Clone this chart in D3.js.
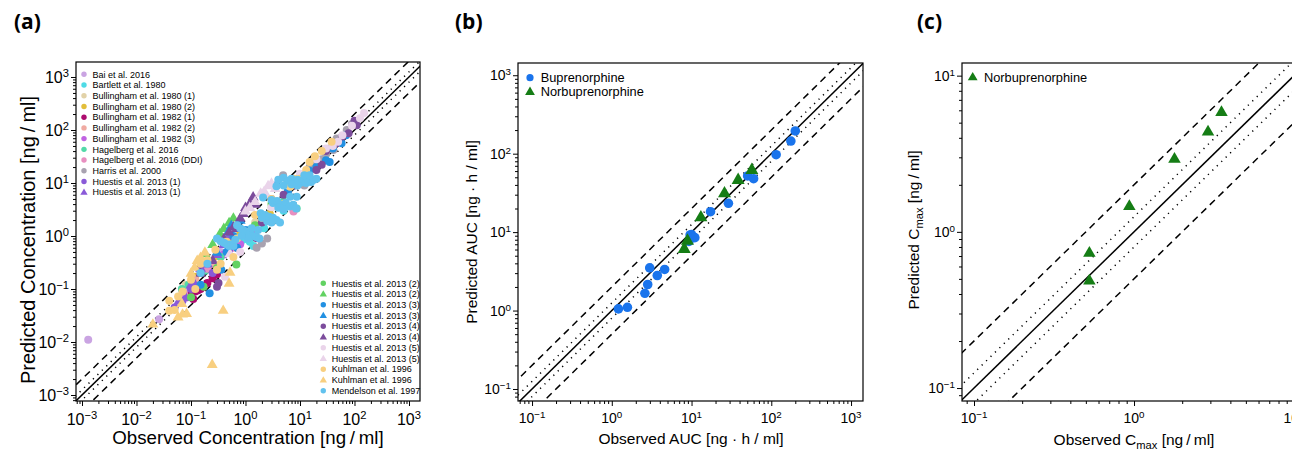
<!DOCTYPE html>
<html>
<head>
<meta charset="utf-8">
<script src="https://cdn.jsdelivr.net/npm/d3@7"></script>
<style>
  body { margin: 0; background: #fff; }
  svg { display: block; font-family: "Liberation Sans", Arial, sans-serif; }
</style>
</head>
<body>
<svg id="fig" width="1292" height="452"></svg>
<script>
// ---- data: panel (a), [observed, predicted] in ng/ml ----
const bai2016 = [[0.0013, 0.011], [0.026, 0.027], [0.09, 0.1], [0.35, 0.5], [1.5, 1.3], [2.5, 2.2]];
const bartlett1980 = [[1.2, 0.78], [1.4, 0.65], [0.9, 0.85], [2.2, 1.4], [0.2, 0.3], [5, 3]];
const bullingham1980a = [[0.08, 0.12], [0.15, 0.2], [0.25, 0.35], [0.5, 0.6], [1.5, 1.8], [3, 3.5]];
const bullingham1980b = [[0.12, 0.17], [0.2, 0.28], [0.3, 0.42], [0.6, 0.8], [2.8, 2.6], [9, 12], [20, 25],
  [6, 8], [0.8, 1.2]];
const bullingham1982a = [[0.085, 0.07], [0.1, 0.08], [0.12, 0.09], [0.135, 0.095], [0.15, 0.1], [0.17, 0.11],
  [0.2, 0.13], [0.25, 0.16], [0.3, 0.19], [0.11, 0.065]];
const bullingham1982b = [[0.07, 0.09], [0.12, 0.15], [0.25, 0.3], [0.5, 0.5]];
const bullingham1982c = [[0.2, 0.25], [0.4, 0.45], [0.8, 0.7], [1.5, 1.1], [0.1, 0.12]];
const hagelberg2016 = [[0.068, 0.1], [0.09, 0.12], [0.18, 0.22], [0.35, 0.4], [1.2, 1.3], [8.7, 3.3], [5, 4.5]];
const hagelberg2016ddi = [[0.075, 0.08], [0.2, 0.24], [7.6, 2.9], [0.6, 0.6], [2, 2.3]];
const harris2000 = [[2, 0.72], [2.5, 0.9], [4.9, 14], [41, 42], [35, 45], [47, 69], [72, 100], [30, 35],
  [1.6, 0.6], [10, 13], [25, 28], [6, 8], [8, 11], [15, 20], [18, 25], [55, 70], [90, 130], [3, 5], [12, 9]];
const huestis1c = [[0.05, 0.045], [0.07, 0.06], [0.1, 0.1], [0.15, 0.2], [0.25, 0.2], [0.5, 0.55]];
const huestis1t = [[0.06, 0.06], [0.08, 0.07], [0.12, 0.12], [0.2, 0.3], [0.3, 0.45], [0.4, 0.7], [0.7, 1.5],
  [0.15, 0.25], [0.1, 0.12], [0.5, 1]];
const huestis2c = [[0.68, 0.29], [0.17, 0.11], [0.1, 0.07], [0.3, 0.25], [1.5, 1.6], [3, 4], [12, 14]];
const huestis2t = [[0.18, 0.47], [0.34, 1.12], [0.4, 1.4], [0.5, 1.8], [0.25, 0.7], [0.6, 2.2]];
const huestis3c = [[0.22, 0.083], [0.36, 0.23], [0.45, 0.5], [3.7, 9.1], [30, 27], [35, 25], [58, 56], [1, 1.3],
  [20, 20], [0.7, 0.6], [40, 45], [15, 17], [6, 7], [70, 80], [0.15, 0.12], [0.6, 1]];
const huestis3t = [[0.48, 1.2], [0.55, 1.6], [0.3, 0.5], [0.8, 2]];
const huestis4c = [[0.32, 0.13], [0.3, 0.11], [1.6, 0.91], [20, 17.6], [78, 87], [110, 123], [15, 12], [5, 6],
  [2, 1.8], [30, 40], [45, 55], [60, 75], [8, 9], [25, 22], [100, 150]];
const huestis4t = [[0.91, 2.7], [1.2, 4.2], [1.38, 5.5], [0.69, 1.4], [0.6, 1.5], [1, 3.5], [0.8, 2.2], [0.25, 0.35],
  [0.15, 0.2], [0.5, 1.2], [1.5, 4], [0.4, 0.9]];
const huestis5c = [[0.42, 0.17], [126, 166], [60, 80], [40, 50], [8, 10], [3, 3.5], [0.8, 0.5], [150, 210],
  [20, 28], [30, 45], [90, 120], [50, 60], [10, 15], [6, 9]];
const huestis5t = [[1.9, 6.5], [2.2, 7], [2.6, 9], [3, 10], [0.52, 0.47], [1.5, 4.5], [2.4, 6], [1.2, 3.5],
  [3.5, 8], [1, 3]];
const kuhlmanC = [[0.04, 0.06], [0.04, 0.039], [0.058, 0.072], [0.3, 0.23], [0.15, 0.3], [0.28, 0.55], [0.45, 0.78],
  [6.6, 8.5], [13, 17.6], [18.8, 32], [38, 60], [0.1, 0.15], [0.2, 0.35], [1, 1.2], [2, 2.2], [5, 4], [10, 12],
  [0.6, 0.4], [25, 40], [8, 12], [15, 25], [3, 5], [0.07, 0.09], [0.05, 0.04], [0.12, 0.1], [0.35, 0.3],
  [0.7, 0.9], [1.5, 2.5]];
const kuhlmanT = [[0.02, 0.022], [0.058, 0.03], [0.07, 0.034], [0.083, 0.035], [0.068, 0.054], [0.117, 0.26],
  [0.18, 0.5], [0.52, 0.21], [0.5, 0.13], [0.39, 0.04], [0.245, 0.0038], [0.1, 0.2], [0.13, 0.35], [0.15, 0.4]];
const mendelson1997 = [[4, 11.5], [5, 12.5], [6, 11], [7, 12], [8, 10.5], [9, 11.5], [10, 10], [11, 11], [12, 12],
  [13, 10], [14, 11.5], [16, 10.5], [18, 11.5], [20, 12], [5, 9], [7, 9.5], [9, 9], [3.7, 8.7],
  [3.2, 4.2], [3.8, 4.6], [4.5, 3.9], [5.5, 4.2], [6.5, 3.6], [7.5, 3.9], [8.5, 3.3], [4, 3.4], [5, 3.2],
  [6.6, 5.5], [8.7, 5.5], [3, 4.8], [1.9, 2.7], [2.3, 2.5], [2.7, 2.3], [3.2, 2.2], [3.7, 2.0], [4.3, 1.8],
  [2.5, 1.9], [3, 1.8], [2, 2.2], [0.7, 1.6], [0.8, 1.4], [0.9, 1.3], [1, 1.2], [1.2, 1.1], [1.4, 1], [1.6, 0.95],
  [1.8, 0.9], [1.1, 0.9], [0.85, 1], [1.3, 1.4], [1.7, 1.3], [0.3, 0.9], [0.35, 0.8], [0.4, 0.75], [0.45, 0.7],
  [0.5, 0.65], [0.55, 0.7], [0.6, 0.65], [0.65, 0.85], [0.2, 0.3], [0.15, 0.2], [2.1, 5.3], [12, 14], [15, 14]];

const studyLabels = ["Bai et al. 2016", "Bartlett et al. 1980", "Bullingham et al. 1980 (1)", "Bullingham et al. 1980 (2)",
  "Bullingham et al. 1982 (1)", "Bullingham et al. 1982 (2)", "Bullingham et al. 1982 (3)", "Hagelberg et al. 2016",
  "Hagelberg et al. 2016 (DDI)", "Harris et al. 2000", "Huestis et al. 2013 (1)", "Huestis et al. 2013 (1)",
  "Huestis et al. 2013 (2)", "Huestis et al. 2013 (2)", "Huestis et al. 2013 (3)", "Huestis et al. 2013 (3)",
  "Huestis et al. 2013 (4)", "Huestis et al. 2013 (4)", "Huestis et al. 2013 (5)", "Huestis et al. 2013 (5)",
  "Kuhlman et al. 1996", "Kuhlman et al. 1996", "Mendelson et al. 1997"];
const studyData = [bai2016, bartlett1980, bullingham1980a, bullingham1980b, bullingham1982a, bullingham1982b,
  bullingham1982c, hagelberg2016, hagelberg2016ddi, harris2000, huestis1c, huestis1t, huestis2c, huestis2t,
  huestis3c, huestis3t, huestis4c, huestis4t, huestis5c, huestis5t, kuhlmanC, kuhlmanT, mendelson1997];

// ---- data: panel (b) AUC, panel (c) Cmax ----
const aucBup = [[200, 195], [176, 145], [115, 97], [50.5, 52], [60, 48], [29, 23.3], [17.3, 18.2], [10, 9.3],
  [11, 8.5], [9.6, 9.2], [9.3, 7.6], [2.99, 3.5], [4.6, 3.34], [3.72, 2.8], [2.82, 2.15], [2.6, 1.66],
  [1.21, 1.05], [1.57, 1.1]];
const aucNor = [[57, 63], [38.4, 47], [25.9, 31.8], [13.1, 15.7], [8.9, 7.9], [8.1, 6.2]];
const cmaxNor = [[0.526, 0.738], [0.526, 0.49], [0.935, 1.47], [1.79, 2.95], [2.9, 4.41], [3.52, 5.87]];

// ---- styles (kept apart from data) ----
const studyColors = ["#caa4e2", "#4fdbe6", "#e2d2a8", "#e2be3a", "#ad0b6e", "#f0aaa2", "#c063e2", "#52d9a8",
  "#e88fc0", "#a8a2b0", "#8a5ad8", "#8a5ad8", "#62d262", "#62d262", "#2290e2", "#2290e2",
  "#7c4c9c", "#7c4c9c", "#ead4ea", "#ead4ea", "#f8cf80", "#f8cf80", "#62c2ee"];
const studyShapes = ["c", "c", "c", "c", "c", "c", "c", "c", "c", "c", "c", "t", "c", "t", "c", "t", "c", "t", "c", "t", "c", "t", "c"];
const blue = "#1a74ec", green = "#157d15";

const svg = d3.select("#fig");

function marker(sel, shape, cx, cy, r, color) {
  if (shape === "c") {
    sel.append("circle").attr("cx", cx).attr("cy", cy).attr("r", r).attr("fill", color);
  } else {
    sel.append("path").attr("d", d3.symbol(d3.symbolTriangle, r * r * 3.2)())
      .attr("transform", `translate(${cx},${cy + r * 0.15})`).attr("fill", color);
  }
}

function powLabel(sel, k) {
  sel.append("tspan").text("10");
  sel.append("tspan").attr("dy", "-0.5em").attr("font-size", "0.7em").text(k < 0 ? "\u2212" + (-k) : k);
}

function drawPanel(p) {
  const g = svg.append("g");
  const x = d3.scaleLog().domain(p.xd.map(v => Math.pow(10, v))).range([p.x0, p.x1]);
  const y = d3.scaleLog().domain(p.yd.map(v => Math.pow(10, v))).range([p.y1, p.y0]);

  const clipId = "clip" + p.id;
  svg.append("clipPath").attr("id", clipId).append("rect")
    .attr("x", p.x0).attr("y", p.y0).attr("width", p.x1 - p.x0).attr("height", p.y1 - p.y0);

  // reference lines: identity, 1.25-fold (dotted), 2-fold (dashed)
  const lines = [[1, null], [1.25, "1.2,5"], [1 / 1.25, "1.2,5"], [2, "7,5"], [0.5, "7,5"]];
  const lo = 1e-5, hi = 1e5;
  const lg = g.append("g").attr("clip-path", `url(#${clipId})`);
  lines.forEach(([f, dash]) => {
    lg.append("line")
      .attr("x1", x(lo)).attr("y1", y(lo * f)).attr("x2", x(hi)).attr("y2", y(hi * f))
      .attr("stroke", "#000").attr("stroke-width", 1.5)
      .attr("stroke-dasharray", dash);
  });

  // points
  const pg = g.append("g").attr("clip-path", `url(#${clipId})`);
  p.series.forEach(s => {
    s.pts.forEach(d => marker(pg, s.shape, x(d[0]), y(d[1]), p.r, s.color));
  });

  // frame
  g.append("rect").attr("x", p.x0).attr("y", p.y0).attr("width", p.x1 - p.x0).attr("height", p.y1 - p.y0)
    .attr("fill", "none").attr("stroke", "#000").attr("stroke-width", 1.2);

  // ticks
  const majX = d3.range(Math.ceil(p.xd[0]), Math.floor(p.xd[1]) + 1);
  const majY = d3.range(Math.ceil(p.yd[0]), Math.floor(p.yd[1]) + 1);
  const minors = (dom) => {
    const out = [];
    for (let e = Math.floor(dom[0]); e <= Math.ceil(dom[1]); e++) {
      for (let k = 2; k <= 9; k++) {
        const v = k * Math.pow(10, e);
        const lv = Math.log10(v);
        if (lv >= dom[0] && lv <= dom[1]) out.push(v);
      }
    }
    return out;
  };
  const axX = g.append("g").attr("transform", `translate(0,${p.y1})`);
  axX.call(d3.axisBottom(x).tickValues(majX.map(k => Math.pow(10, k))).tickSize(5).tickFormat(""));
  axX.append("g").call(d3.axisBottom(x).tickValues(minors(p.xd)).tickSize(3).tickFormat(""));
  const axY = g.append("g").attr("transform", `translate(${p.x0},0)`);
  axY.call(d3.axisLeft(y).tickValues(majY.map(k => Math.pow(10, k))).tickSize(5).tickFormat(""));
  axY.append("g").call(d3.axisLeft(y).tickValues(minors(p.yd)).tickSize(3).tickFormat(""));
  g.selectAll(".domain").remove();
  g.selectAll(".tick line").attr("stroke", "#000").attr("stroke-width", 1);

  majX.forEach(k => {
    const t = g.append("text").attr("x", x(Math.pow(10, k))).attr("y", p.y1 + p.tickDy)
      .attr("text-anchor", "middle").attr("font-size", p.tickFs);
    powLabel(t, k);
  });
  majY.forEach(k => {
    const t = g.append("text").attr("x", p.x0 - 7).attr("y", y(Math.pow(10, k)) + p.tickFs * 0.36)
      .attr("text-anchor", "end").attr("font-size", p.tickFs);
    powLabel(t, k);
  });

  // axis titles
  const xt = g.append("text").attr("x", p.xTitle[0]).attr("y", p.xTitle[1])
    .attr("text-anchor", "middle").attr("font-size", p.xTitleFs);
  p.xLabel(xt);
  const yt = g.append("text").attr("transform", `translate(${p.yTitle[0]},${p.yTitle[1]}) rotate(-90)`)
    .attr("text-anchor", "middle").attr("font-size", p.yTitleFs);
  p.yLabel(yt);

  // panel letter
  svg.append("text").attr("x", p.letter[0]).attr("y", p.letter[1]).text(p.letterText)
    .attr("font-family", "'Open Sans', 'DejaVu Sans', sans-serif").attr("font-weight", 700).attr("font-size", 21);

  return { x, y, g };
}

const unitConc = "[ng\u2009/\u2009ml]";
const unitAuc = "[ng \u00b7 h / ml]";
function cmaxLabel(prefix) {
  return t => {
    t.append("tspan").text(prefix + " C");
    t.append("tspan").attr("dy", 4).attr("font-size", "0.72em").text("max");
    t.append("tspan").attr("dy", -4).text(" " + unitConc);
  };
}

// ---- panel (a) ----
const seriesA = studyData.map((pts, i) => ({ pts, color: studyColors[i], shape: studyShapes[i] }));
drawPanel({
  id: "a", x0: 76, x1: 420, y0: 62, y1: 401, xd: [-3.11, 3.202], yd: [-3.113, 3.283],
  series: seriesA, r: 4, tickFs: 16, tickDy: 24,
  xTitle: [248, 444], xTitleFs: 18.7, yTitle: [35, 240], yTitleFs: 20,
  xLabel: t => t.text("Observed Concentration " + unitConc),
  yLabel: t => t.text("Predicted Concentration " + unitConc),
  letter: [14, 29], letterText: "(a)"
});
const legA = svg.append("g").attr("font-size", 9);
studyLabels.forEach((lab, i) => {
  const top = i < 12;
  const mx = top ? 84 : 323.3;
  const my = top ? 74.3 + i * 10.72 : 283.3 + (i - 12) * 10.74;
  marker(legA, studyShapes[i], mx, my, 2.7, studyColors[i]);
  legA.append("text").attr("x", mx + 8.4).attr("y", my + 3.2).text(lab);
});

// ---- panel (b) ----
drawPanel({
  id: "b", x0: 518, x1: 863, y0: 63, y1: 401, xd: [-1.176, 3.15], yd: [-1.153, 3.156],
  series: [{ pts: aucBup, color: blue, shape: "c" }, { pts: aucNor, color: green, shape: "t" }],
  r: 4.8, tickFs: 14, tickDy: 22,
  xTitle: [691, 444], xTitleFs: 15.5, yTitle: [477, 232], yTitleFs: 15.5,
  xLabel: t => t.text("Observed AUC " + unitAuc),
  yLabel: t => t.text("Predicted AUC " + unitAuc),
  letter: [455, 29], letterText: "(b)"
});
const legB = svg.append("g").attr("font-size", 12.8);
marker(legB, "c", 530, 77.7, 3.6, blue);
legB.append("text").attr("x", 540.7).attr("y", 82.2).text("Buprenorphine");
marker(legB, "t", 530, 91.7, 3.6, green);
legB.append("text").attr("x", 540.7).attr("y", 96.2).text("Norbuprenorphine");

// ---- panel (c) ----
drawPanel({
  id: "c", x0: 962, x1: 1307, y0: 63, y1: 401, xd: [-1.075, 1.081], yd: [-1.083, 1.081],
  series: [{ pts: cmaxNor, color: green, shape: "t" }],
  r: 4.6, tickFs: 14, tickDy: 22,
  xTitle: [1134, 445], xTitleFs: 15.5, yTitle: [919, 230], yTitleFs: 15.5,
  xLabel: cmaxLabel("Observed"),
  yLabel: cmaxLabel("Predicted"),
  letter: [917, 29], letterText: "(c)"
});
const legC = svg.append("g").attr("font-size", 12.8);
marker(legC, "t", 972.7, 77, 3.6, green);
legC.append("text").attr("x", 984).attr("y", 81.5).text("Norbuprenorphine");
</script>
</body>
</html>
